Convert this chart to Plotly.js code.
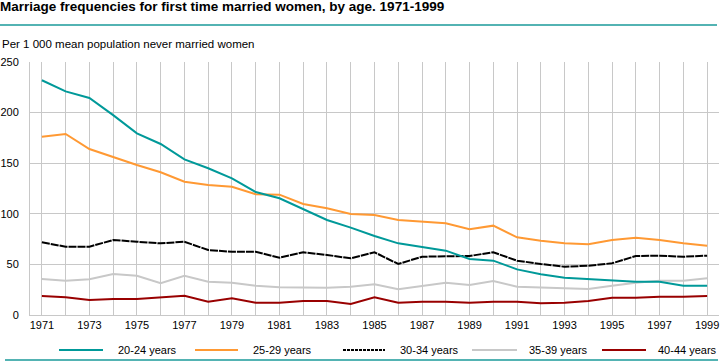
<!DOCTYPE html>
<html>
<head>
<meta charset="utf-8">
<script src="https://cdn.plot.ly/plotly-3.0.1.min.js"></script>
<style>
  html, body { margin: 0; padding: 0; background: #ffffff; }
  #chart { width: 725px; height: 361px; }
</style>
</head>
<body>
<div id="chart"></div>
<script>
// ---- Data ----
const years = [1971,1972,1973,1974,1975,1976,1977,1978,1979,1980,1981,1982,1983,1984,1985,1986,1987,1988,1989,1990,1991,1992,1993,1994,1995,1996,1997,1998,1999];
const seriesNames = ["20-24 years", "25-29 years", "30-34 years", "35-39 years", "40-44 years"];
const age20_24 = [232,221,214.5,197.5,179.5,169,153.8,145,135,121.5,115.3,104.4,93.9,86.3,78,70.8,66.9,63.6,55.3,53.7,45.1,40.2,36.9,35.6,33.9,32.9,32.9,29,29];
const age25_29 = [176.2,178.9,164,155.8,148.2,141,131.7,128.5,126.8,119.3,118.9,109.7,105.4,99.8,98.8,93.9,92.2,90.6,84.7,88.3,76.8,73.4,70.8,69.9,74.1,76.4,74.1,70.8,68.5];
const age30_34 = [71.8,67.5,67.5,74.1,72.4,70.8,72.4,64.2,62.5,62.5,56.6,62,59.3,56,62,50.4,57.6,57.6,58.3,62,53.7,50.4,47.7,48.7,51.1,58.3,58.6,57.6,58.6];
const age35_39 = [35.6,33.9,35.3,40.5,38.8,31.3,38.8,32.9,31.9,29,27.4,27.4,27,28,30.3,25.4,29,31.9,29.6,33.6,28,27.4,27,25.7,29,31.9,33.9,33.9,36.3];
const age40_44 = [18.8,17.5,14.8,15.8,15.8,17.1,19.1,13.2,16.5,12.2,12.2,13.8,13.8,10.9,17.5,12.2,13.2,13.2,12.2,13.2,13.2,11.6,12.2,13.8,17.1,17.1,18.1,18.1,18.8];
const xTickVals = [1971,1973,1975,1977,1979,1981,1983,1985,1987,1989,1991,1993,1995,1997,1999];
const xTickText = ["1971","1973","1975","1977","1979","1981","1983","1985","1987","1989","1991","1993","1995","1997","1999"];
const yTickVals = [0,50,100,150,200,250];
const yTickText = ["0","50","100","150","200","250"];
const titleText = "Marriage frequencies for first time married women, by age. 1971-1999";
const subtitleText = "Per 1 000 mean population never married women";

// ---- Styles ----
const allSeries = [age20_24, age25_29, age30_34, age35_39, age40_44];
const colors = ["#009999", "#ff9933", "#000000", "#c8c8c8", "#990000"];
const dashes = ["solid", "solid", "8px,1px", "solid", "solid"];
const legDashes = ["solid", "solid", "3px,1px", "solid", "solid"];
const FONT = "Liberation Sans, Arial, sans-serif";
const W = 725, H = 361;
const M = {l: 30, r: 6, t: 62, b: 46};
const plotW = W - M.l - M.r, plotH = H - M.t - M.b;
const px = x => (x - M.l) / plotW;           // pixel -> paper x
const py = y => (H - M.b - y) / plotH;       // pixel -> paper y

const traces = allSeries.map((vals, i) => ({
  type: "scatter",
  mode: "lines",
  x: years,
  y: vals,
  name: seriesNames[i],
  line: {color: colors[i], width: 2, dash: dashes[i], shape: "linear"},
  hoverinfo: "x+y+name"
}));
const ordered = [traces[3], traces[4], traces[2], traces[1], traces[0]];

// ---- Manual legend (positions only) ----
const legLines = [[59,103],[195,238],[343,385],[472,517],[602,646]];
const legText = [116, 251, 398, 527, 656];
const legY = 350;
const shapes = [];
const annotations = [];
seriesNames.forEach((nm, i) => {
  shapes.push({type: "line", xref: "paper", yref: "paper",
    x0: px(legLines[i][0]), x1: px(legLines[i][1]), y0: py(legY), y1: py(legY),
    line: {color: colors[i], width: 2, dash: legDashes[i]}});
  annotations.push({xref: "paper", yref: "paper", x: px(legText[i]), y: py(legY),
    xanchor: "left", yanchor: "middle", showarrow: false, text: nm,
    font: {family: FONT, size: 11, color: "#000"}});
});
shapes.push({type: "line", xref: "paper", yref: "paper", x0: px(0), x1: px(717), y0: py(25), y1: py(25),
  line: {color: "#1a9a9a", width: 1.5}});
shapes.push({type: "line", xref: "paper", yref: "paper", x0: px(5), x1: px(718), y0: py(360), y1: py(360),
  line: {color: "#1a9a9a", width: 1.5}});
annotations.push({xref: "paper", yref: "paper", x: px(0), y: py(44), xanchor: "left", yanchor: "middle",
  showarrow: false, text: subtitleText, font: {family: FONT, size: 11.5, color: "#000"}});

const layout = {
  width: W, height: H,
  margin: M,
  paper_bgcolor: "#ffffff",
  plot_bgcolor: "#ffffff",
  showlegend: false,
  title: {text: "<b>" + titleText + "</b>", x: 0, xref: "container", xanchor: "left",
          y: 1, yref: "container", yanchor: "top", pad: {t: 2, l: 0},
          font: {family: FONT, size: 13.5, color: "#000"}},
  xaxis: {
    range: [1970.5, 1999.5],
    tickmode: "array", tickvals: xTickVals, ticktext: xTickText,
    showgrid: true, gridcolor: "#c8c8c8", gridwidth: 1,
    minor: {dtick: 1, tick0: 1971, showgrid: true, gridcolor: "#c8c8c8", gridwidth: 1},
    zeroline: false, showline: true, linecolor: "#c8c8c8", linewidth: 1,
    ticks: "", tickfont: {family: FONT, size: 11, color: "#000"},
    fixedrange: true
  },
  yaxis: {
    range: [0, 250],
    tickmode: "array", tickvals: yTickVals, ticktext: yTickText,
    showgrid: true, gridcolor: "#c8c8c8", gridwidth: 1,
    zeroline: false, showline: true, linecolor: "#c8c8c8", linewidth: 1,
    ticks: "outside", ticklen: 8, tickcolor: "rgba(0,0,0,0)",
    tickfont: {family: FONT, size: 11, color: "#000"},
    fixedrange: true
  },
  shapes: shapes,
  annotations: annotations
};

Plotly.newPlot("chart", ordered, layout, {displayModeBar: false, staticPlot: true});
</script>
</body>
</html>
